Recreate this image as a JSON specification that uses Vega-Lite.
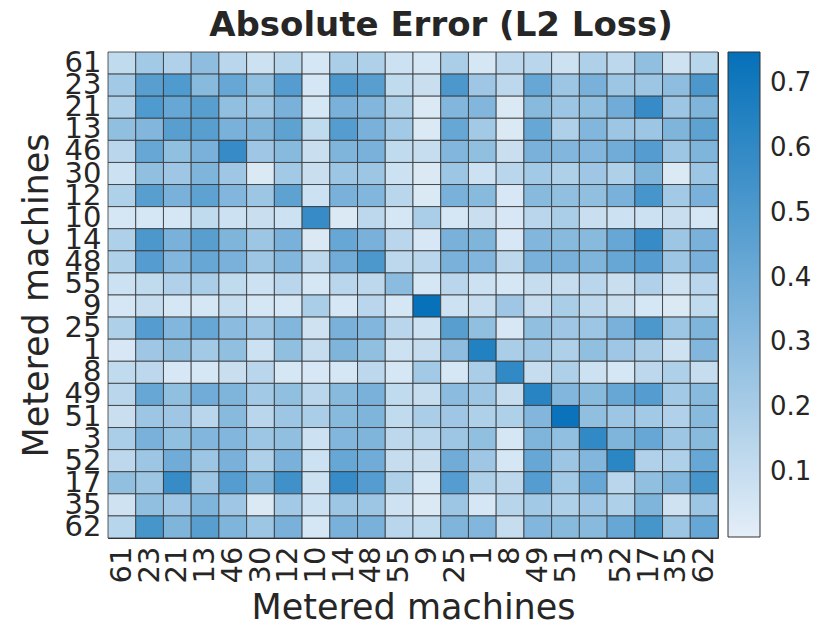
{
"$schema":"https://vega.github.io/schema/vega-lite/v6.json",
"width":610,"height":486,
"autosize":{"type":"none"},
"padding":{"left":108,"top":52,"right":122,"bottom":92},
"background":"white",
"config":{"font":"DejaVu Sans","view":{"stroke":"#333","strokeWidth":1},
"axis":{"labelColor":"#262626","titleColor":"#262626","labelFont":"DejaVu Sans","titleFont":"DejaVu Sans"},
"legend":{"labelColor":"#262626","labelFont":"DejaVu Sans"}},
"title":{"text":"Absolute Error (L2 Loss)","fontSize":34,"fontWeight":"bold","font":"DejaVu Sans","color":"#262626","offset":6,"dx":28},
"data":{"values":[
{"r":"61","c":"61","v":0.12},{"r":"61","c":"23","v":0.22},{"r":"61","c":"21","v":0.17},{"r":"61","c":"13","v":0.29},{"r":"61","c":"46","v":0.14},{"r":"61","c":"30","v":0.08},{"r":"61","c":"12","v":0.15},{"r":"61","c":"10","v":0.05},{"r":"61","c":"14","v":0.19},{"r":"61","c":"48","v":0.18},{"r":"61","c":"55","v":0.08},{"r":"61","c":"9","v":0.05},{"r":"61","c":"25","v":0.19},{"r":"61","c":"1","v":0.05},{"r":"61","c":"8","v":0.13},{"r":"61","c":"49","v":0.14},{"r":"61","c":"51","v":0.08},{"r":"61","c":"3","v":0.18},{"r":"61","c":"52","v":0.13},{"r":"61","c":"17","v":0.28},{"r":"61","c":"35","v":0.07},{"r":"61","c":"62","v":0.15},
{"r":"23","c":"61","v":0.22},{"r":"23","c":"23","v":0.47},{"r":"23","c":"21","v":0.50},{"r":"23","c":"13","v":0.31},{"r":"23","c":"46","v":0.42},{"r":"23","c":"30","v":0.28},{"r":"23","c":"12","v":0.48},{"r":"23","c":"10","v":0.05},{"r":"23","c":"14","v":0.51},{"r":"23","c":"48","v":0.47},{"r":"23","c":"55","v":0.12},{"r":"23","c":"9","v":0.09},{"r":"23","c":"25","v":0.51},{"r":"23","c":"1","v":0.23},{"r":"23","c":"8","v":0.13},{"r":"23","c":"49","v":0.42},{"r":"23","c":"51","v":0.24},{"r":"23","c":"3","v":0.36},{"r":"23","c":"52","v":0.24},{"r":"23","c":"17","v":0.24},{"r":"23","c":"35","v":0.29},{"r":"23","c":"62","v":0.51},
{"r":"21","c":"61","v":0.18},{"r":"21","c":"23","v":0.50},{"r":"21","c":"21","v":0.42},{"r":"21","c":"13","v":0.47},{"r":"21","c":"46","v":0.28},{"r":"21","c":"30","v":0.24},{"r":"21","c":"12","v":0.36},{"r":"21","c":"10","v":0.05},{"r":"21","c":"14","v":0.36},{"r":"21","c":"48","v":0.33},{"r":"21","c":"55","v":0.18},{"r":"21","c":"9","v":0.03},{"r":"21","c":"25","v":0.33},{"r":"21","c":"1","v":0.33},{"r":"21","c":"8","v":0.03},{"r":"21","c":"49","v":0.31},{"r":"21","c":"51","v":0.24},{"r":"21","c":"3","v":0.28},{"r":"21","c":"52","v":0.39},{"r":"21","c":"17","v":0.58},{"r":"21","c":"35","v":0.24},{"r":"21","c":"62","v":0.34},
{"r":"13","c":"61","v":0.28},{"r":"13","c":"23","v":0.33},{"r":"13","c":"21","v":0.47},{"r":"13","c":"13","v":0.47},{"r":"13","c":"46","v":0.36},{"r":"13","c":"30","v":0.34},{"r":"13","c":"12","v":0.45},{"r":"13","c":"10","v":0.12},{"r":"13","c":"14","v":0.48},{"r":"13","c":"48","v":0.36},{"r":"13","c":"55","v":0.22},{"r":"13","c":"9","v":0.03},{"r":"13","c":"25","v":0.42},{"r":"13","c":"1","v":0.22},{"r":"13","c":"8","v":0.03},{"r":"13","c":"49","v":0.42},{"r":"13","c":"51","v":0.18},{"r":"13","c":"3","v":0.33},{"r":"13","c":"52","v":0.24},{"r":"13","c":"17","v":0.24},{"r":"13","c":"35","v":0.34},{"r":"13","c":"62","v":0.45},
{"r":"46","c":"61","v":0.14},{"r":"46","c":"23","v":0.42},{"r":"46","c":"21","v":0.28},{"r":"46","c":"13","v":0.36},{"r":"46","c":"46","v":0.58},{"r":"46","c":"30","v":0.23},{"r":"46","c":"12","v":0.31},{"r":"46","c":"10","v":0.09},{"r":"46","c":"14","v":0.34},{"r":"46","c":"48","v":0.36},{"r":"46","c":"55","v":0.12},{"r":"46","c":"9","v":0.10},{"r":"46","c":"25","v":0.33},{"r":"46","c":"1","v":0.28},{"r":"46","c":"8","v":0.09},{"r":"46","c":"49","v":0.36},{"r":"46","c":"51","v":0.33},{"r":"46","c":"3","v":0.33},{"r":"46","c":"52","v":0.39},{"r":"46","c":"17","v":0.48},{"r":"46","c":"35","v":0.24},{"r":"46","c":"62","v":0.34},
{"r":"30","c":"61","v":0.08},{"r":"30","c":"23","v":0.28},{"r":"30","c":"21","v":0.23},{"r":"30","c":"13","v":0.34},{"r":"30","c":"46","v":0.23},{"r":"30","c":"30","v":0.03},{"r":"30","c":"12","v":0.22},{"r":"30","c":"10","v":0.09},{"r":"30","c":"14","v":0.24},{"r":"30","c":"48","v":0.24},{"r":"30","c":"55","v":0.08},{"r":"30","c":"9","v":0.03},{"r":"30","c":"25","v":0.24},{"r":"30","c":"1","v":0.08},{"r":"30","c":"8","v":0.14},{"r":"30","c":"49","v":0.22},{"r":"30","c":"51","v":0.18},{"r":"30","c":"3","v":0.23},{"r":"30","c":"52","v":0.18},{"r":"30","c":"17","v":0.34},{"r":"30","c":"35","v":0.03},{"r":"30","c":"62","v":0.24},
{"r":"12","c":"61","v":0.18},{"r":"12","c":"23","v":0.47},{"r":"12","c":"21","v":0.36},{"r":"12","c":"13","v":0.45},{"r":"12","c":"46","v":0.33},{"r":"12","c":"30","v":0.24},{"r":"12","c":"12","v":0.45},{"r":"12","c":"10","v":0.08},{"r":"12","c":"14","v":0.36},{"r":"12","c":"48","v":0.33},{"r":"12","c":"55","v":0.14},{"r":"12","c":"9","v":0.03},{"r":"12","c":"25","v":0.36},{"r":"12","c":"1","v":0.31},{"r":"12","c":"8","v":0.04},{"r":"12","c":"49","v":0.31},{"r":"12","c":"51","v":0.28},{"r":"12","c":"3","v":0.28},{"r":"12","c":"52","v":0.36},{"r":"12","c":"17","v":0.53},{"r":"12","c":"35","v":0.22},{"r":"12","c":"62","v":0.36},
{"r":"10","c":"61","v":0.05},{"r":"10","c":"23","v":0.05},{"r":"10","c":"21","v":0.05},{"r":"10","c":"13","v":0.12},{"r":"10","c":"46","v":0.08},{"r":"10","c":"30","v":0.09},{"r":"10","c":"12","v":0.08},{"r":"10","c":"10","v":0.58},{"r":"10","c":"14","v":0.03},{"r":"10","c":"48","v":0.13},{"r":"10","c":"55","v":0.05},{"r":"10","c":"9","v":0.19},{"r":"10","c":"25","v":0.05},{"r":"10","c":"1","v":0.09},{"r":"10","c":"8","v":0.04},{"r":"10","c":"49","v":0.14},{"r":"10","c":"51","v":0.19},{"r":"10","c":"3","v":0.09},{"r":"10","c":"52","v":0.08},{"r":"10","c":"17","v":0.08},{"r":"10","c":"35","v":0.09},{"r":"10","c":"62","v":0.05},
{"r":"14","c":"61","v":0.18},{"r":"14","c":"23","v":0.51},{"r":"14","c":"21","v":0.36},{"r":"14","c":"13","v":0.47},{"r":"14","c":"46","v":0.34},{"r":"14","c":"30","v":0.24},{"r":"14","c":"12","v":0.36},{"r":"14","c":"10","v":0.03},{"r":"14","c":"14","v":0.42},{"r":"14","c":"48","v":0.36},{"r":"14","c":"55","v":0.14},{"r":"14","c":"9","v":0.04},{"r":"14","c":"25","v":0.36},{"r":"14","c":"1","v":0.34},{"r":"14","c":"8","v":0.04},{"r":"14","c":"49","v":0.33},{"r":"14","c":"51","v":0.31},{"r":"14","c":"3","v":0.31},{"r":"14","c":"52","v":0.42},{"r":"14","c":"17","v":0.58},{"r":"14","c":"35","v":0.24},{"r":"14","c":"62","v":0.36},
{"r":"48","c":"61","v":0.18},{"r":"48","c":"23","v":0.48},{"r":"48","c":"21","v":0.33},{"r":"48","c":"13","v":0.42},{"r":"48","c":"46","v":0.36},{"r":"48","c":"30","v":0.24},{"r":"48","c":"12","v":0.33},{"r":"48","c":"10","v":0.13},{"r":"48","c":"14","v":0.39},{"r":"48","c":"48","v":0.51},{"r":"48","c":"55","v":0.13},{"r":"48","c":"9","v":0.14},{"r":"48","c":"25","v":0.36},{"r":"48","c":"1","v":0.33},{"r":"48","c":"8","v":0.13},{"r":"48","c":"49","v":0.36},{"r":"48","c":"51","v":0.36},{"r":"48","c":"3","v":0.34},{"r":"48","c":"52","v":0.42},{"r":"48","c":"17","v":0.48},{"r":"48","c":"35","v":0.24},{"r":"48","c":"62","v":0.36},
{"r":"55","c":"61","v":0.08},{"r":"55","c":"23","v":0.12},{"r":"55","c":"21","v":0.17},{"r":"55","c":"13","v":0.19},{"r":"55","c":"46","v":0.12},{"r":"55","c":"30","v":0.08},{"r":"55","c":"12","v":0.14},{"r":"55","c":"10","v":0.05},{"r":"55","c":"14","v":0.14},{"r":"55","c":"48","v":0.13},{"r":"55","c":"55","v":0.30},{"r":"55","c":"9","v":0.05},{"r":"55","c":"25","v":0.14},{"r":"55","c":"1","v":0.08},{"r":"55","c":"8","v":0.05},{"r":"55","c":"49","v":0.10},{"r":"55","c":"51","v":0.10},{"r":"55","c":"3","v":0.14},{"r":"55","c":"52","v":0.09},{"r":"55","c":"17","v":0.17},{"r":"55","c":"35","v":0.07},{"r":"55","c":"62","v":0.14},
{"r":"9","c":"61","v":0.05},{"r":"9","c":"23","v":0.10},{"r":"9","c":"21","v":0.05},{"r":"9","c":"13","v":0.05},{"r":"9","c":"46","v":0.10},{"r":"9","c":"30","v":0.05},{"r":"9","c":"12","v":0.05},{"r":"9","c":"10","v":0.19},{"r":"9","c":"14","v":0.05},{"r":"9","c":"48","v":0.14},{"r":"9","c":"55","v":0.05},{"r":"9","c":"9","v":0.74},{"r":"9","c":"25","v":0.08},{"r":"9","c":"1","v":0.10},{"r":"9","c":"8","v":0.23},{"r":"9","c":"49","v":0.10},{"r":"9","c":"51","v":0.19},{"r":"9","c":"3","v":0.13},{"r":"9","c":"52","v":0.09},{"r":"9","c":"17","v":0.05},{"r":"9","c":"35","v":0.03},{"r":"9","c":"62","v":0.12},
{"r":"25","c":"61","v":0.18},{"r":"25","c":"23","v":0.48},{"r":"25","c":"21","v":0.33},{"r":"25","c":"13","v":0.42},{"r":"25","c":"46","v":0.30},{"r":"25","c":"30","v":0.24},{"r":"25","c":"12","v":0.33},{"r":"25","c":"10","v":0.07},{"r":"25","c":"14","v":0.36},{"r":"25","c":"48","v":0.33},{"r":"25","c":"55","v":0.14},{"r":"25","c":"9","v":0.08},{"r":"25","c":"25","v":0.47},{"r":"25","c":"1","v":0.28},{"r":"25","c":"8","v":0.04},{"r":"25","c":"49","v":0.28},{"r":"25","c":"51","v":0.23},{"r":"25","c":"3","v":0.24},{"r":"25","c":"52","v":0.36},{"r":"25","c":"17","v":0.51},{"r":"25","c":"35","v":0.24},{"r":"25","c":"62","v":0.34},
{"r":"1","c":"61","v":0.04},{"r":"1","c":"23","v":0.23},{"r":"1","c":"21","v":0.28},{"r":"1","c":"13","v":0.22},{"r":"1","c":"46","v":0.28},{"r":"1","c":"30","v":0.08},{"r":"1","c":"12","v":0.28},{"r":"1","c":"10","v":0.10},{"r":"1","c":"14","v":0.34},{"r":"1","c":"48","v":0.28},{"r":"1","c":"55","v":0.08},{"r":"1","c":"9","v":0.10},{"r":"1","c":"25","v":0.29},{"r":"1","c":"1","v":0.65},{"r":"1","c":"8","v":0.19},{"r":"1","c":"49","v":0.24},{"r":"1","c":"51","v":0.18},{"r":"1","c":"3","v":0.28},{"r":"1","c":"52","v":0.23},{"r":"1","c":"17","v":0.19},{"r":"1","c":"35","v":0.07},{"r":"1","c":"62","v":0.33},
{"r":"8","c":"61","v":0.12},{"r":"8","c":"23","v":0.13},{"r":"8","c":"21","v":0.04},{"r":"8","c":"13","v":0.05},{"r":"8","c":"46","v":0.09},{"r":"8","c":"30","v":0.14},{"r":"8","c":"12","v":0.05},{"r":"8","c":"10","v":0.04},{"r":"8","c":"14","v":0.05},{"r":"8","c":"48","v":0.13},{"r":"8","c":"55","v":0.05},{"r":"8","c":"9","v":0.22},{"r":"8","c":"25","v":0.05},{"r":"8","c":"1","v":0.19},{"r":"8","c":"8","v":0.60},{"r":"8","c":"49","v":0.10},{"r":"8","c":"51","v":0.18},{"r":"8","c":"3","v":0.08},{"r":"8","c":"52","v":0.05},{"r":"8","c":"17","v":0.13},{"r":"8","c":"35","v":0.18},{"r":"8","c":"62","v":0.10},
{"r":"49","c":"61","v":0.14},{"r":"49","c":"23","v":0.42},{"r":"49","c":"21","v":0.28},{"r":"49","c":"13","v":0.39},{"r":"49","c":"46","v":0.34},{"r":"49","c":"30","v":0.22},{"r":"49","c":"12","v":0.28},{"r":"49","c":"10","v":0.14},{"r":"49","c":"14","v":0.31},{"r":"49","c":"48","v":0.36},{"r":"49","c":"55","v":0.12},{"r":"49","c":"9","v":0.10},{"r":"49","c":"25","v":0.30},{"r":"49","c":"1","v":0.24},{"r":"49","c":"8","v":0.10},{"r":"49","c":"49","v":0.63},{"r":"49","c":"51","v":0.33},{"r":"49","c":"3","v":0.31},{"r":"49","c":"52","v":0.42},{"r":"49","c":"17","v":0.48},{"r":"49","c":"35","v":0.22},{"r":"49","c":"62","v":0.31},
{"r":"51","c":"61","v":0.09},{"r":"51","c":"23","v":0.24},{"r":"51","c":"21","v":0.23},{"r":"51","c":"13","v":0.14},{"r":"51","c":"46","v":0.31},{"r":"51","c":"30","v":0.14},{"r":"51","c":"12","v":0.24},{"r":"51","c":"10","v":0.19},{"r":"51","c":"14","v":0.31},{"r":"51","c":"48","v":0.34},{"r":"51","c":"55","v":0.12},{"r":"51","c":"9","v":0.19},{"r":"51","c":"25","v":0.23},{"r":"51","c":"1","v":0.18},{"r":"51","c":"8","v":0.18},{"r":"51","c":"49","v":0.33},{"r":"51","c":"51","v":0.73},{"r":"51","c":"3","v":0.28},{"r":"51","c":"52","v":0.24},{"r":"51","c":"17","v":0.22},{"r":"51","c":"35","v":0.17},{"r":"51","c":"62","v":0.31},
{"r":"3","c":"61","v":0.19},{"r":"3","c":"23","v":0.36},{"r":"3","c":"21","v":0.28},{"r":"3","c":"13","v":0.33},{"r":"3","c":"46","v":0.33},{"r":"3","c":"30","v":0.24},{"r":"3","c":"12","v":0.28},{"r":"3","c":"10","v":0.08},{"r":"3","c":"14","v":0.33},{"r":"3","c":"48","v":0.34},{"r":"3","c":"55","v":0.13},{"r":"3","c":"9","v":0.14},{"r":"3","c":"25","v":0.24},{"r":"3","c":"1","v":0.28},{"r":"3","c":"8","v":0.05},{"r":"3","c":"49","v":0.34},{"r":"3","c":"51","v":0.28},{"r":"3","c":"3","v":0.60},{"r":"3","c":"52","v":0.34},{"r":"3","c":"17","v":0.42},{"r":"3","c":"35","v":0.24},{"r":"3","c":"62","v":0.31},
{"r":"52","c":"61","v":0.13},{"r":"52","c":"23","v":0.24},{"r":"52","c":"21","v":0.39},{"r":"52","c":"13","v":0.24},{"r":"52","c":"46","v":0.36},{"r":"52","c":"30","v":0.18},{"r":"52","c":"12","v":0.36},{"r":"52","c":"10","v":0.08},{"r":"52","c":"14","v":0.42},{"r":"52","c":"48","v":0.39},{"r":"52","c":"55","v":0.10},{"r":"52","c":"9","v":0.09},{"r":"52","c":"25","v":0.39},{"r":"52","c":"1","v":0.23},{"r":"52","c":"8","v":0.05},{"r":"52","c":"49","v":0.42},{"r":"52","c":"51","v":0.24},{"r":"52","c":"3","v":0.33},{"r":"52","c":"52","v":0.62},{"r":"52","c":"17","v":0.17},{"r":"52","c":"35","v":0.18},{"r":"52","c":"62","v":0.42},
{"r":"17","c":"61","v":0.28},{"r":"17","c":"23","v":0.24},{"r":"17","c":"21","v":0.58},{"r":"17","c":"13","v":0.24},{"r":"17","c":"46","v":0.48},{"r":"17","c":"30","v":0.34},{"r":"17","c":"12","v":0.55},{"r":"17","c":"10","v":0.08},{"r":"17","c":"14","v":0.58},{"r":"17","c":"48","v":0.48},{"r":"17","c":"55","v":0.18},{"r":"17","c":"9","v":0.05},{"r":"17","c":"25","v":0.48},{"r":"17","c":"1","v":0.18},{"r":"17","c":"8","v":0.13},{"r":"17","c":"49","v":0.48},{"r":"17","c":"51","v":0.22},{"r":"17","c":"3","v":0.42},{"r":"17","c":"52","v":0.14},{"r":"17","c":"17","v":0.28},{"r":"17","c":"35","v":0.34},{"r":"17","c":"62","v":0.53},
{"r":"35","c":"61","v":0.07},{"r":"35","c":"23","v":0.28},{"r":"35","c":"21","v":0.23},{"r":"35","c":"13","v":0.34},{"r":"35","c":"46","v":0.23},{"r":"35","c":"30","v":0.03},{"r":"35","c":"12","v":0.22},{"r":"35","c":"10","v":0.08},{"r":"35","c":"14","v":0.24},{"r":"35","c":"48","v":0.24},{"r":"35","c":"55","v":0.07},{"r":"35","c":"9","v":0.03},{"r":"35","c":"25","v":0.24},{"r":"35","c":"1","v":0.05},{"r":"35","c":"8","v":0.15},{"r":"35","c":"49","v":0.22},{"r":"35","c":"51","v":0.18},{"r":"35","c":"3","v":0.23},{"r":"35","c":"52","v":0.18},{"r":"35","c":"17","v":0.34},{"r":"35","c":"35","v":0.07},{"r":"35","c":"62","v":0.24},
{"r":"62","c":"61","v":0.15},{"r":"62","c":"23","v":0.53},{"r":"62","c":"21","v":0.34},{"r":"62","c":"13","v":0.47},{"r":"62","c":"46","v":0.34},{"r":"62","c":"30","v":0.24},{"r":"62","c":"12","v":0.36},{"r":"62","c":"10","v":0.05},{"r":"62","c":"14","v":0.36},{"r":"62","c":"48","v":0.36},{"r":"62","c":"55","v":0.14},{"r":"62","c":"9","v":0.12},{"r":"62","c":"25","v":0.34},{"r":"62","c":"1","v":0.33},{"r":"62","c":"8","v":0.10},{"r":"62","c":"49","v":0.33},{"r":"62","c":"51","v":0.31},{"r":"62","c":"3","v":0.31},{"r":"62","c":"52","v":0.42},{"r":"62","c":"17","v":0.53},{"r":"62","c":"35","v":0.24},{"r":"62","c":"62","v":0.42}
]},
"mark":{"type":"rect","stroke":"#333","strokeWidth":0.8},
"encoding":{
"x":{"field":"c","type":"nominal","scale":{"domain":["61","23","21","13","46","30","12","10","14","48","55","9","25","1","8","49","51","3","52","17","35","62"],"paddingInner":0,"paddingOuter":0},
"axis":{"title":"Metered machines","titleFontSize":35,"titleFontWeight":"normal","titlePadding":8,"labelFontSize":29,"labelAngle":270,"labelPadding":8,"ticks":false,"domain":false}},
"y":{"field":"r","type":"nominal","scale":{"domain":["61","23","21","13","46","30","12","10","14","48","55","9","25","1","8","49","51","3","52","17","35","62"],"paddingInner":0,"paddingOuter":0},
"axis":{"title":"Metered machines","titleFontSize":35,"titleFontWeight":"normal","titlePadding":10,"labelFontSize":29,"labelPadding":7,"ticks":false,"domain":false}},
"color":{"field":"v","type":"quantitative","scale":{"domain":[0,0.748],"range":["#e4eef8","#0570b9"],"interpolate":"rgb"},
"legend":{"title":null,"values":[0.1,0.2,0.3,0.4,0.5,0.6,0.7],"gradientLength":485,"gradientThickness":32,"labelFontSize":26,"offset":10,"labelOffset":10,"gradientStrokeColor":"#333","gradientStrokeWidth":1,"direction":"vertical"}}
}
}
